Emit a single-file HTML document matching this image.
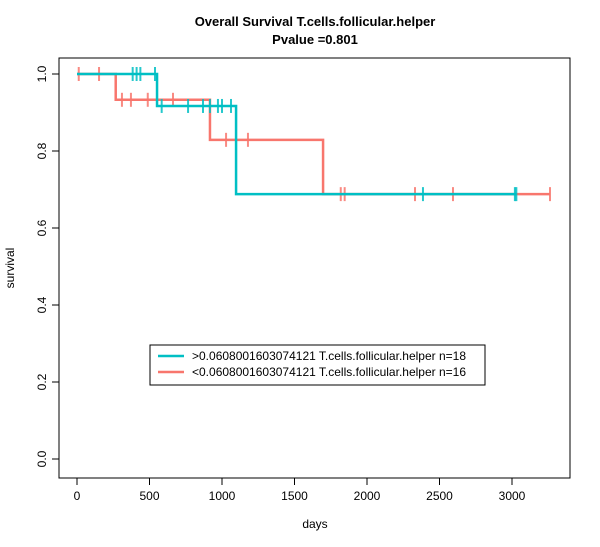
<!DOCTYPE html>
<html><head><meta charset="utf-8"><style>body{margin:0;background:#fff}svg{display:block;font-family:"Liberation Sans",Arial,sans-serif}</style></head>
<body>
<svg id="chart" width="600" height="547">
<text x="315" y="26" text-anchor="middle" font-size="13" font-weight="bold">Overall Survival T.cells.follicular.helper</text>
<text x="315" y="44" text-anchor="middle" font-size="13" font-weight="bold">Pvalue =0.801</text>
<rect x="59" y="58" width="511" height="420" fill="none" stroke="#000"/>
<g id="axes"></g>
<g id="series"></g>
<text x="315" y="528" text-anchor="middle" font-size="12">days</text>
<text transform="translate(14,268) rotate(-90)" text-anchor="middle" font-size="12">survival</text>
<g>
<rect x="150" y="345" width="335" height="40" fill="#fff" stroke="#000"/>
<line x1="158" y1="356" x2="184" y2="356" stroke="#00BFC4" stroke-width="2.5"/>
<text x="192" y="360" font-size="12">&gt;0.0608001603074121 T.cells.follicular.helper n=18</text>
<line x1="158" y1="372" x2="184" y2="372" stroke="#F8766D" stroke-width="2.5"/>
<text x="192" y="376" font-size="12">&lt;0.0608001603074121 T.cells.follicular.helper n=16</text>
</g>
</svg>
<script>
const xTicks=[0,500,1000,1500,2000,2500,3000];
const yTicks=[0.0,0.2,0.4,0.6,0.8,1.0];
const highTimes=[0,552,1097,3030];
const highSurv=[1,0.917,0.688,0.688];
const highCensor=[384,411,437,538,584,766,869,917,972,1000,1062,2386,3020,3030];
const lowTimes=[0,267,917,1697,3262];
const lowSurv=[1,0.933,0.829,0.688,0.688];
const lowCensor=[12,152,310,372,488,662,1028,1179,1819,1846,2331,2593,3262];
const NS='http://www.w3.org/2000/svg';
const sx=d=>77+d*0.145, sy=v=>459-v*385;
function mk(tag,attrs,parent){const e=document.createElementNS(NS,tag);for(const k in attrs)e.setAttribute(k,attrs[k]);parent.appendChild(e);return e;}
const ax=document.getElementById('axes');
mk('line',{x1:sx(0),x2:sx(3000),y1:478,y2:478,stroke:'#000'},ax);
xTicks.forEach(t=>{mk('line',{x1:sx(t),x2:sx(t),y1:478,y2:485,stroke:'#000'},ax);
const tx=mk('text',{x:sx(t),y:500,'text-anchor':'middle','font-size':12},ax);tx.textContent=t;

});
mk('line',{x1:59,x2:59,y1:sy(0),y2:sy(1),stroke:'#000'},ax);
yTicks.forEach(t=>{mk('line',{x1:52,x2:59,y1:sy(t),y2:sy(t),stroke:'#000'},ax);
const tx=mk('text',{transform:`translate(46,${sy(t)}) rotate(-90)`,'text-anchor':'middle','font-size':12},ax);tx.textContent=t.toFixed(1);

});
const sg=document.getElementById('series');
function draw(times,surv,cens,color,name){
let d=`M${sx(times[0])},${sy(surv[0])}`;
for(let i=1;i<times.length;i++){d+=`H${sx(times[i])}V${sy(surv[i])}`;}
const p=mk('path',{d:d,fill:'none',stroke:color,'stroke-width':2.5},sg);


cens.forEach(c=>{let s=surv[0];for(let i=0;i<times.length;i++)if(times[i]<=c)s=surv[i];
const l=mk('line',{x1:sx(c),x2:sx(c),y1:sy(s)-7,y2:sy(s)+7,stroke:color,'stroke-width':2,opacity:0.85},sg);

});}
draw(lowTimes,lowSurv,lowCensor,'#F8766D','low-group');
draw(highTimes,highSurv,highCensor,'#00BFC4','high-group');
</script>
</body></html>
